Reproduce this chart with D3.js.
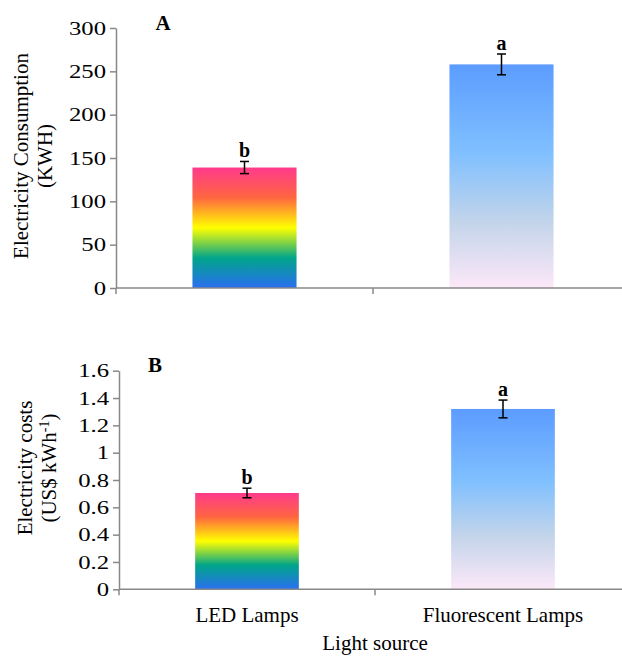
<!DOCTYPE html>
<html><head><meta charset="utf-8">
<script src="https://cdn.jsdelivr.net/npm/d3@7"></script>
<style>
body{margin:0;background:#fff}
svg{display:block}
text{font-family:"Liberation Serif","Times New Roman",Times,serif;fill:#000}
</style>
</head><body>
<svg id="c" width="622" height="656"></svg>
<script>
// ---- data ----
const categories = ["LED Lamps", "Fluorescent Lamps"];
const consumption = [139, 258];
const consumptionErr = [7, 12];
const consumptionLetters = ["b", "a"];
const costs = [0.705, 1.32];
const costsErr = [0.035, 0.065];
const costsLetters = ["b", "a"];
const ticksA = [0, 50, 100, 150, 200, 250, 300];
const ticksB = [0, 0.2, 0.4, 0.6, 0.8, 1, 1.2, 1.4, 1.6];
const xTitle = "Light source";

const svg = d3.select("#c");
const defs = svg.append("defs");

function grad(id, stops) {
  const g = defs.append("linearGradient").attr("id", id)
    .attr("x1", 0).attr("y1", 0).attr("x2", 0).attr("y2", 1);
  stops.forEach(s => g.append("stop").attr("offset", s[0]).attr("stop-color", s[1]));
}
grad("gLED", [[0, "#ff3a8c"], [0.25, "#ff6640"], [0.5, "#ffff00"], [0.75, "#00a58a"], [1, "#2a6ff0"]]);
grad("gFLU", [[0, "#5c9cff"], [0.4, "#80c0ff"], [0.7, "#c2d4ea"], [1, "#fce8f8"]]);
const fills = ["url(#gLED)", "url(#gFLU)"];
const axisColor = "#888";

function panel(o) {
  const g = svg.append("g");
  const y = d3.scaleLinear().domain([0, o.max]).range([o.bottom, o.top]);
  const x = d3.scaleBand().domain(categories).range([o.left, o.right])
    .paddingInner(0.595).paddingOuter(0.2975);
  const step = x.step(), gap = step - x.bandwidth();

  // bars
  g.selectAll("rect.bar").data(categories).join("rect")
    .attr("x", d => x(d)).attr("width", x.bandwidth())
    .attr("y", (d, i) => y(o.values[i]))
    .attr("height", (d, i) => y(0) - y(o.values[i]))
    .attr("fill", (d, i) => fills[i]);

  // y axis
  const ya = g.append("g").attr("transform", `translate(${o.left},0)`)
    .call(d3.axisLeft(y).tickValues(o.ticks).tickFormat(d => String(d))
      .tickSize(6).tickSizeOuter(0).tickPadding(4));
  ya.selectAll("path,line").attr("stroke", axisColor).attr("stroke-width", 1.5);
  ya.selectAll("text").attr("font-size", 19)
    .attr("font-family", '"Liberation Serif","Times New Roman",serif').attr("fill", "#000")
    .each(function () {
      const w = this.getComputedTextLength();
      d3.select(this).attr("textLength", w * 1.3).attr("lengthAdjust", "spacingAndGlyphs");
    });

  // x axis line and boundary ticks
  g.append("line").attr("x1", o.left).attr("x2", o.right)
    .attr("y1", y(0)).attr("y2", y(0)).attr("stroke", axisColor).attr("stroke-width", 1.5);
  const bounds = categories.map(d => x(d) - gap / 2).concat([x(categories[categories.length - 1]) + x.bandwidth() + gap / 2]);
  g.selectAll("line.xt").data(bounds).join("line")
    .attr("x1", d => d).attr("x2", d => d)
    .attr("y1", y(0)).attr("y2", y(0) + 6)
    .attr("stroke", axisColor).attr("stroke-width", 1.5);

  // error bars
  categories.forEach((d, i) => {
    const cx = x(d) + x.bandwidth() / 2;
    const hi = y(o.values[i] + o.errs[i]), lo = y(o.values[i] - o.errs[i]);
    g.append("line").attr("x1", cx).attr("x2", cx).attr("y1", hi).attr("y2", lo)
      .attr("stroke", "#000").attr("stroke-width", 1.5);
    [hi, lo].forEach(yy => g.append("line").attr("x1", cx - 4.5).attr("x2", cx + 4.5)
      .attr("y1", yy).attr("y2", yy).attr("stroke", "#000").attr("stroke-width", 1.5));
    g.append("text").attr("x", cx).attr("y", hi - 4)
      .attr("text-anchor", "middle").attr("font-size", 20).attr("font-weight", "bold")
      .text(o.letters[i]);
  });

  // panel label
  g.append("text").attr("x", o.labelX).attr("y", o.labelY)
    .attr("text-anchor", "middle").attr("font-size", 21).attr("font-weight", "bold")
    .text(o.label);

  // y title
  const cy = o.titleCY;
  o.title1 && g.append("text")
    .attr("transform", `translate(${o.t1x},${cy}) rotate(-90)`)
    .attr("text-anchor", "middle").attr("font-size", 21).text(o.title1);
  const t2 = g.append("text")
    .attr("transform", `translate(${o.t2x},${cy}) rotate(-90)`)
    .attr("text-anchor", "middle").attr("font-size", 21);
  o.title2(t2);

  return { x, y };
}

panel({
  left: 116, right: 630, top: 28, bottom: 288, max: 300,
  values: consumption, errs: consumptionErr, letters: consumptionLetters, ticks: ticksA,
  label: "A", labelX: 163, labelY: 30,
  titleCY: 156, t1x: 28, t2x: 52,
  title1: "Electricity Consumption",
  title2: t => t.text("(KWH)")
});

const pB = panel({
  left: 119, right: 631, top: 370.7, bottom: 589.3, max: 1.6,
  values: costs, errs: costsErr, letters: costsLetters, ticks: ticksB,
  label: "B", labelX: 155, labelY: 372,
  titleCY: 468, t1x: 32, t2x: 56,
  title1: "Electricity costs",
  title2: t => {
    t.append("tspan").text("(US$ kWh");
    t.append("tspan").attr("dy", -7).attr("font-size", 14).text("-1");
    t.append("tspan").attr("dy", 7).text(")");
  }
});

// category labels (panel B only)
svg.selectAll("text.cat").data(categories).join("text")
  .attr("x", d => pB.x(d) + pB.x.bandwidth() / 2).attr("y", 622)
  .attr("text-anchor", "middle").attr("font-size", 21).text(d => d);

svg.append("text").attr("x", 375).attr("y", 650)
  .attr("text-anchor", "middle").attr("font-size", 21).text(xTitle);
</script>
</body></html>
